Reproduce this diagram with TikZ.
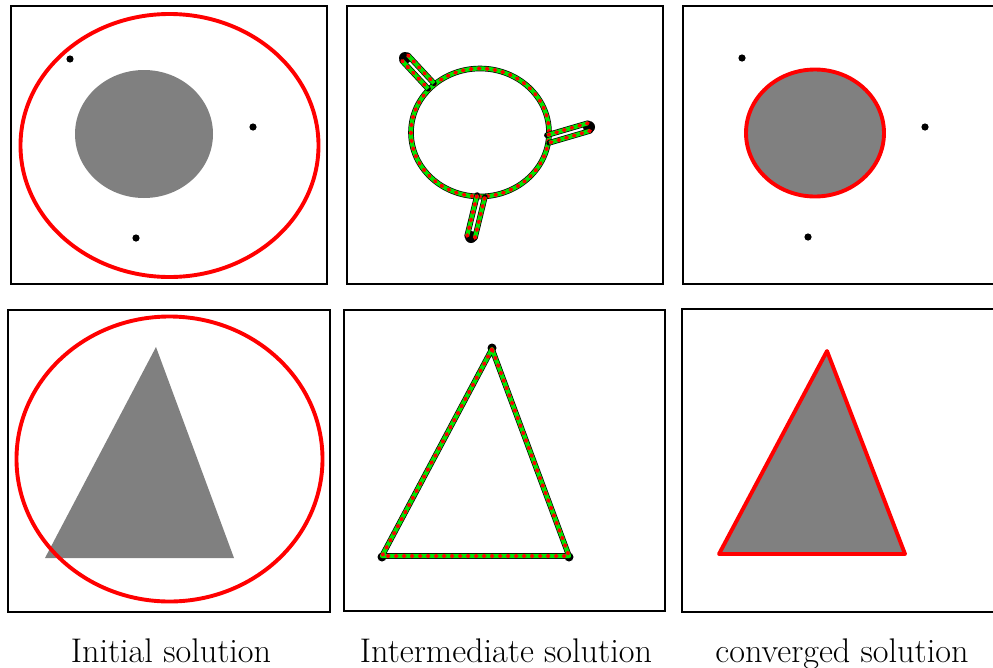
\documentclass[tikz,border=0pt]{standalone}
\usetikzlibrary{calc}
\definecolor{bgreen}{RGB}{0,230,0}
\definecolor{bred}{RGB}{255,0,0}
\definecolor{sgray}{RGB}{128,128,128}
\tikzset{
  frame/.style={draw=black, line width=2.6pt},
  redline/.style={draw=bred, line width=3.9pt},
  grayfill/.style={fill=sgray},
  pdot/.style={fill=black},
  contourline/.style={draw=black, line width=5.6pt, line join=round, line cap=round,
     postaction={draw=bgreen, line width=4.2pt, line cap=butt},
     postaction={draw=bred, line width=3.8pt, line cap=round, dash pattern=on 1.2pt off 6.8pt}},
  lbl/.style={anchor=base, inner sep=0pt, font=\fontsize{34.2}{40}\selectfont}
}
\begin{document}
\begin{tikzpicture}[x=1pt,y=-1pt]
\useasboundingbox (0,0) rectangle (993,667);
% frames
\draw[frame] (11,6) rectangle (327,284);
\draw[frame] (347,6) rectangle (663,284);
\draw[frame] (683,6) rectangle (997,284);
\draw[frame] (8,310) rectangle (330,612);
\draw[frame] (344,310) rectangle (665,611);
\draw[frame] (682,309) rectangle (997,612);

% ---- top left: initial
\fill[grayfill] (144,134) ellipse [x radius=69, y radius=64];
\fill[pdot] (70,59) circle (3.6);
\fill[pdot] (253,127) circle (3.6);
\fill[pdot] (136,238) circle (3.6);
\draw[redline] (169.5,145.5) ellipse [x radius=149, y radius=131.5];

% ---- top middle: intermediate
\coordinate (d1) at (405,58);
\coordinate (c1) at (431,86);
\coordinate (d2) at (589,127);
\coordinate (c2) at (548,139);
\coordinate (d3) at (471,237);
\coordinate (c3) at (481,196);
\fill[pdot] (d1) circle (6);
\fill[pdot] (d2) circle (6);
\fill[pdot] (d3) circle (6);
\draw[contourline] (480,132.5) ellipse [x radius=69, y radius=64];
\foreach \d/\c in {d1/c1,d2/c2,d3/c3}{
  \draw[contourline] ($(\d)!4pt!90:(\c)$) -- ($(\c)!4pt!-90:(\d)$);
  \draw[contourline] ($(\d)!4pt!-90:(\c)$) -- ($(\c)!4pt!90:(\d)$);
}

% ---- top right: converged
\fill[pdot] (742,58) circle (3.6);
\fill[pdot] (925,127) circle (3.6);
\fill[pdot] (808,237) circle (3.6);
\draw[redline, fill=sgray] (815,133) ellipse [x radius=69, y radius=63.5];

% ---- bottom left: initial
\fill[grayfill] (156,347) -- (45,558) -- (234,558) -- cycle;
\draw[redline] (169.5,459) ellipse [x radius=153, y radius=142.5];

% ---- bottom middle: intermediate
\fill[pdot] (492,348) circle (4.5);
\fill[pdot] (382,557) circle (4.5);
\fill[pdot] (569,557) circle (4.5);
\draw[contourline] (492,349) -- (382,556) -- (569,556) -- cycle;

% ---- bottom right: converged
\draw[redline, fill=sgray, line join=round] (827,351) -- (719,554) -- (905,554) -- cycle;

% labels
\node[lbl] (l1) at (171,662) {Initial solution};
\node[lbl] (l2) at (506,662) {Intermediate solution};
\node[lbl] (l3) at (842,662) {converged solution};
\end{tikzpicture}
\end{document}
